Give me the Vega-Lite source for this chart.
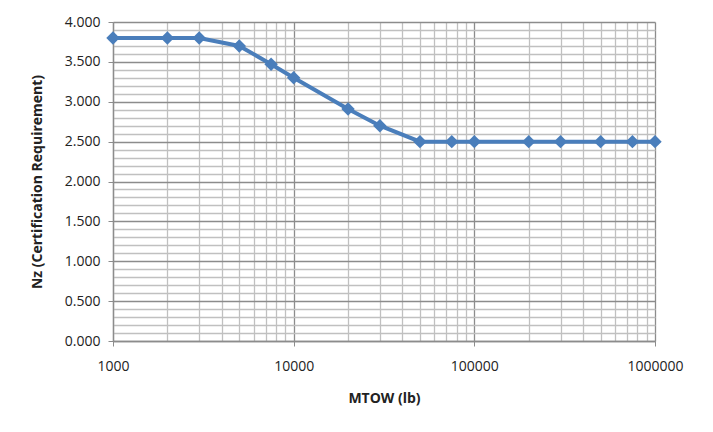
{
  "$schema": "https://vega.github.io/schema/vega-lite/v6.json",
  "width": 542,
  "height": 319,
  "autosize": {"type": "none"},
  "padding": {"left": 113, "top": 22, "right": 58, "bottom": 91},
  "background": "white",
  "config": {
    "view": {"stroke": null},
    "font": "Open Sans"
  },
  "data": {
    "values": [
      {"mtow": 1000, "nz": 3.8},
      {"mtow": 2000, "nz": 3.8},
      {"mtow": 3000, "nz": 3.8},
      {"mtow": 5000, "nz": 3.7},
      {"mtow": 7500, "nz": 3.47},
      {"mtow": 10000, "nz": 3.3},
      {"mtow": 20000, "nz": 2.91},
      {"mtow": 30000, "nz": 2.7},
      {"mtow": 50000, "nz": 2.5},
      {"mtow": 75000, "nz": 2.5},
      {"mtow": 100000, "nz": 2.5},
      {"mtow": 200000, "nz": 2.5},
      {"mtow": 300000, "nz": 2.5},
      {"mtow": 500000, "nz": 2.5},
      {"mtow": 750000, "nz": 2.5},
      {"mtow": 1000000, "nz": 2.5}
    ]
  },
  "mark": {
    "type": "line",
    "color": "#4a7ebb",
    "strokeWidth": 4,
    "point": {"shape": "diamond", "size": 180, "filled": true, "color": "#4a7ebb"}
  },
  "encoding": {
    "x": {
      "field": "mtow",
      "type": "quantitative",
      "scale": {"type": "log", "domain": [1000, 1000000], "nice": false},
      "axis": {
        "title": "MTOW (lb)",
        "titleFont": "Open Sans",
        "titleFontSize": 14,
        "titleFontWeight": "bold",
        "titleColor": "#222",
        "titlePadding": 18,
        "values": [1000,2000,3000,4000,5000,6000,7000,8000,9000,10000,20000,30000,40000,50000,60000,70000,80000,90000,100000,200000,300000,400000,500000,600000,700000,800000,900000,1000000],
        "labelExpr": "abs(log(datum.value)/log(10) - round(log(datum.value)/log(10))) < 0.001 ? format(datum.value, 'd') : ''",
        "labelFontSize": 14,
        "labelColor": "#222",
        "labelPadding": 13,
        "labelFlush": false,
        "labelOverlap": false,
        "grid": true,
        "gridColor": {"condition": {"test": "abs(log(datum.value)/log(10) - round(log(datum.value)/log(10))) < 0.001", "value": "#8c8c8c"}, "value": "#c0c0c0"},
        "gridWidth": 1.3,
        "tickSize": {"condition": {"test": "abs(log(datum.value)/log(10) - round(log(datum.value)/log(10))) < 0.001", "value": 5}, "value": 0},
        "tickColor": "#8c8c8c",
        "domainColor": "#8c8c8c",
        "domainWidth": 1.3
      }
    },
    "y": {
      "field": "nz",
      "type": "quantitative",
      "scale": {"domain": [0, 4], "nice": false, "zero": true},
      "axis": {
        "title": "Nz (Certification Requirement)",
        "titleFont": "Open Sans",
        "titleFontSize": 14,
        "titleFontWeight": "bold",
        "titleColor": "#222",
        "titlePadding": 20,
        "values": [0,0.1,0.2,0.3,0.4,0.5,0.6,0.7,0.8,0.9,1,1.1,1.2,1.3,1.4,1.5,1.6,1.7,1.8,1.9,2,2.1,2.2,2.3,2.4,2.5,2.6,2.7,2.8,2.9,3,3.1,3.2,3.3,3.4,3.5,3.6,3.7,3.8,3.9,4],
        "labelExpr": "abs(datum.value*2 - round(datum.value*2)) < 0.001 ? format(datum.value, '.3f') : ''",
        "labelFontSize": 14,
        "labelColor": "#222",
        "labelPadding": 8,
        "labelOverlap": false,
        "labelFlush": false,
        "grid": true,
        "gridColor": {"condition": {"test": "abs(datum.value*2 - round(datum.value*2)) < 0.001", "value": "#8c8c8c"}, "value": "#c0c0c0"},
        "gridWidth": 1.3,
        "tickSize": {"condition": {"test": "abs(datum.value*2 - round(datum.value*2)) < 0.001", "value": 5}, "value": 0},
        "tickColor": "#8c8c8c",
        "domainColor": "#8c8c8c",
        "domainWidth": 1.3
      }
    }
  }
}
